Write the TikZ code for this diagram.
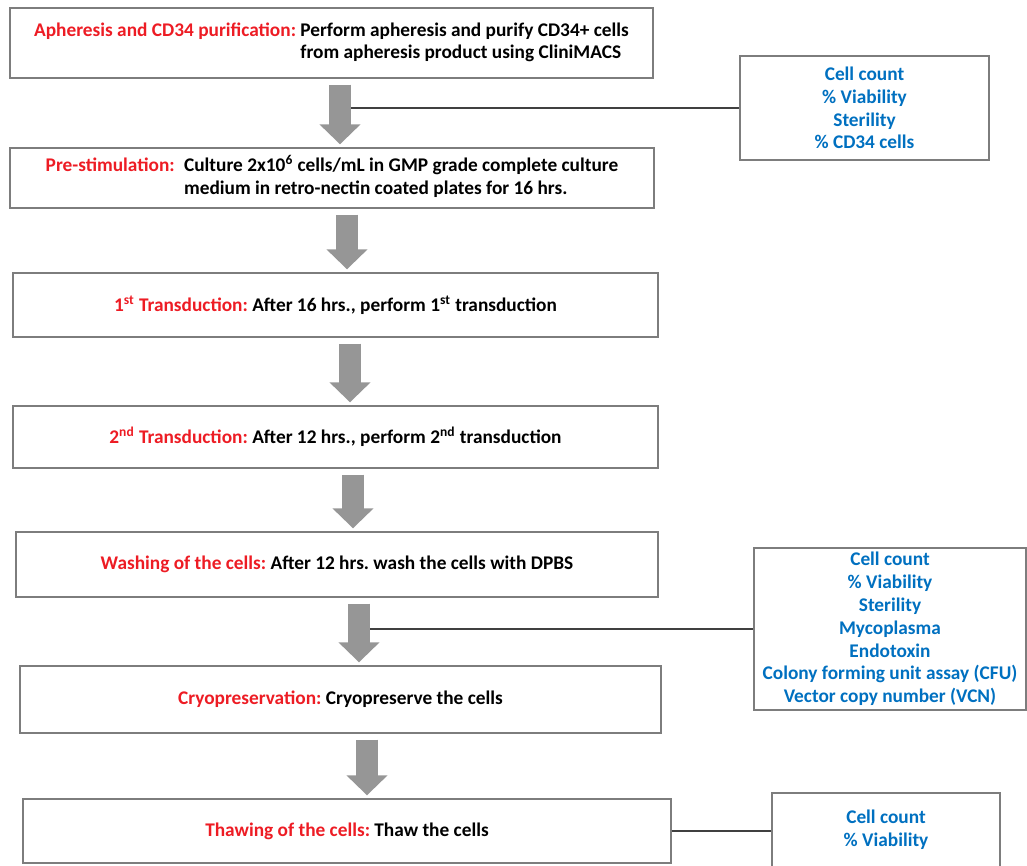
\documentclass[tikz,border=0pt]{standalone}
\usepackage{fontspec}
\setmainfont{Carlito}
\usepackage{tikz}
\usetikzlibrary{arrows.meta}

\definecolor{labelred}{RGB}{237,28,36}
\definecolor{checkblue}{RGB}{0,112,192}
\definecolor{arrowgray}{RGB}{150,150,150}
\definecolor{edgegray}{RGB}{125,125,125}
\newcommand{\redlabel}[1]{\textcolor{labelred}{#1}}
\renewcommand{\arraystretch}{1}
\frenchspacing

\begin{document}
\begin{tikzpicture}[x=0.02cm, y=-0.02cm,
                    font=\fontsize{11}{13}\selectfont\bfseries]
    \tikzset{box/.style={
      draw=edgegray, line width=0.8pt, rectangle,
      inner sep=0pt, align=center}}
    \tikzset{check/.style={
      draw=edgegray, line width=0.8pt, rectangle,
      inner sep=0pt, align=center, text=checkblue}}
    \tikzset{flow/.style={
      draw=arrowgray, line width=0.44cm,
      -{Triangle[width=0.8cm, length=0.4cm]},
      shorten <=0.12cm, shorten >=0.06cm}}
    \tikzset{link/.style={draw=black!75, line width=0.6pt}}

    \useasboundingbox (0, 0) rectangle (1027, 865);

    % Steps
    \path (331.5, 43) node [box, minimum width=12.86cm, minimum height=1.40cm] (b1)
          {\redlabel{Apheresis and CD34 purification:}
           \begin{tabular}[t]{@{}l@{}}
             Perform apheresis and purify CD34+ cells\\
             from apheresis product using CliniMACS
           \end{tabular}};

    \path (332, 178) node [box, minimum width=12.88cm, minimum height=1.20cm] (b2)
          {\redlabel{Pre-stimulation:}\hspace{0.1cm}
           \begin{tabular}[t]{@{}l@{}}
             Culture 2x10\textsuperscript{6} cells/mL in GMP grade complete culture\\
             medium in retro-nectin coated plates for 16 hrs.
           \end{tabular}};

    \path (335.5, 305) node [box, minimum width=12.90cm, minimum height=1.28cm] (b3)
          {\redlabel{1\textsuperscript{st} Transduction:}
           After 16 hrs., perform 1\textsuperscript{st} transduction};

    \path (335.5, 437) node [box, minimum width=12.90cm, minimum height=1.24cm] (b4)
          {\redlabel{2\textsuperscript{nd} Transduction:}
           After 12 hrs., perform 2\textsuperscript{nd} transduction};

    \path (337, 564.5) node [box, minimum width=12.84cm, minimum height=1.30cm] (b5)
          {\redlabel{Washing of the cells:} After 12 hrs. wash the cells with DPBS};

    \path (340.5, 699.5) node [box, minimum width=12.82cm, minimum height=1.34cm] (b6)
          {\redlabel{Cryopreservation:} Cryopreserve the cells};

    \path (347, 831) node [box, minimum width=12.96cm, minimum height=1.28cm] (b7)
          {\redlabel{Thawing of the cells:} Thaw the cells};

    % Quality checks
    \path (864.5, 108) node [check, minimum width=4.98cm, minimum height=2.08cm] (s1)
          {Cell count\\\% Viability\\Sterility\\\% CD34 cells};

    \path (890, 629) node [check, minimum width=5.44cm, minimum height=3.24cm] (s2)
          {Cell count\\\% Viability\\Sterility\\Mycoplasma\\Endotoxin\\
           Colony forming unit assay (CFU)\\Vector copy number (VCN)};

    \path (886, 830) node [check, minimum width=4.56cm, minimum height=1.48cm] (s3)
          {Cell count\\\% Viability};

    % Arrow axes
    \foreach \n/\x in {1/340, 2/347, 3/350, 4/353, 5/359, 6/367}
      \path (\x, 0) coordinate (a\n);

    % Edges
    \draw [link] (a1 |- s1.west) -- (s1.west);
    \draw [link] (a5 |- s2.west) -- (s2.west);
    \draw [link] (b7.east) -- (b7.east -| s3.west);

    \foreach \n [count=\m from 2] in {1, ..., 6}
      \draw [flow] (b\n.south -| a\n) -- (b\m.north -| a\n);
\end{tikzpicture}
\end{document}
